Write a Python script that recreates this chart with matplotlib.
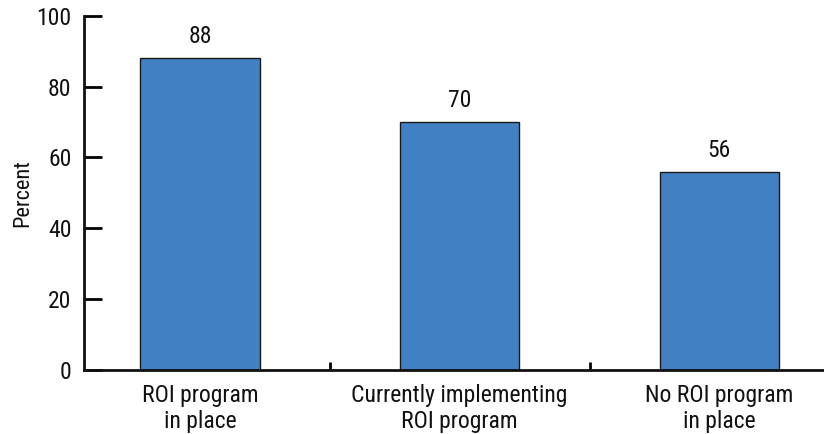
import matplotlib
matplotlib.use("Agg")
import matplotlib.pyplot as plt
import numpy as np

categories = ["ROI program\nin place", "Currently implementing\nROI program", "No ROI program\nin place"]
values = [88, 70, 56]
y_ticks = [0, 20, 40, 60, 80, 100]

plt.rcParams["font.family"] = ["Roboto Condensed", "Liberation Sans", "DejaVu Sans"]

fig = plt.figure(figsize=(8.24, 4.34), dpi=100)
ax = fig.add_axes([84 / 824, 64 / 434, 1 - 84 / 824, (370 - 15.7) / 434])

x = np.arange(len(categories))
ax.bar(x, values, width=0.46, color="#4280c4", edgecolor="#1a1a1a", linewidth=1.0, zorder=2)

for xi, v in zip(x, values):
    ax.annotate(f"{v}", (xi, v), xytext=(0, 7), textcoords="offset points",
                ha="center", va="bottom", fontsize=17, color="#111111")

ax.set_xlim(-0.4466, 2.403)
ax.set_ylim(0, 100)
ax.set_yticks(y_ticks)
ax.set_yticklabels([str(t) for t in y_ticks], fontsize=17, color="#111111")
ax.set_xticks(x)
ax.set_xticklabels(categories, fontsize=17, linespacing=1.15, color="#111111")
ax.tick_params(axis="x", which="major", length=0, pad=10)
ax.set_xticks([0.5, 1.5], minor=True)
ax.tick_params(axis="x", which="minor", direction="in", length=6, width=2)
ax.tick_params(axis="y", direction="in", length=13, width=2, pad=9)

for side in ("top", "right"):
    ax.spines[side].set_visible(False)
for side in ("left", "bottom"):
    ax.spines[side].set_linewidth(2)
    ax.spines[side].set_color("#111111")

ax.set_ylabel("Percent", fontsize=16, labelpad=2, color="#111111")

fig.savefig("out.png", dpi=100)
